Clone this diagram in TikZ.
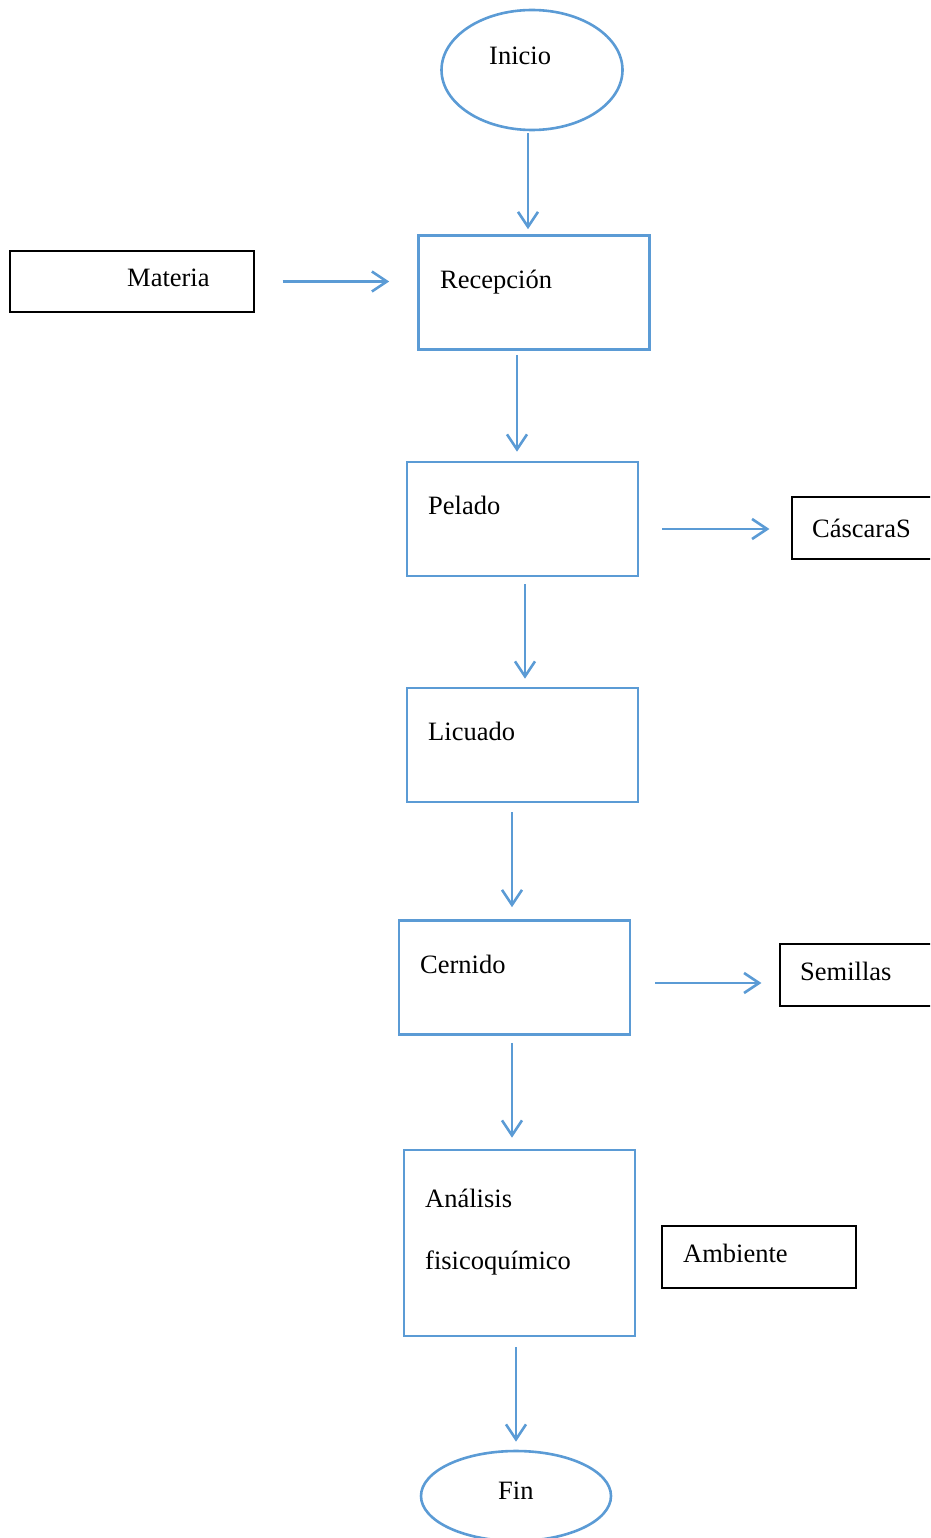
\documentclass[tikz,border=0pt]{standalone}
\usepackage{fontspec}
\setmainfont{Liberation Serif}
\usetikzlibrary{arrows.meta,calc,shapes.geometric}
\definecolor{flowblue}{HTML}{5B9BD5}
\begin{document}
\begin{tikzpicture}[x=1pt,y=-1pt,
  every node/.style={font=\fontsize{26.5}{32}\selectfont},
  procbox/.style={draw=flowblue,line width=2.6pt,rectangle,inner sep=0pt,
    minimum width=231pt,minimum height=114pt},
  sidebox/.style={draw=black,line width=1.2pt,rectangle,inner sep=0pt},
  endpoint/.style={draw=flowblue,line width=2.6pt,ellipse,inner sep=0pt},
  lbl/.style={anchor=base west,inner sep=0pt},
  arr/.style={draw=flowblue,line width=2.6pt,
    -{Straight Barb[length=15pt,width=20pt,line width=2.6pt]}}]
\clip (0,0) rectangle (930,1538);

% terminals
\node[endpoint,minimum width=181pt,minimum height=120pt] (inicio) at (532,70) {};
\node[lbl] (inicio-t) at (489,65) {Inicio};
\node[endpoint,minimum width=190pt,minimum height=90pt] (fin) at (516,1496) {};
\node[lbl] (fin-t) at (498,1499) {Fin};

% process steps
\node[procbox] (recepcion) at (534,292.5) {};
\node[lbl] (recepcion-t) at (440,288) {Recepción};
\node[procbox] (pelado) at (522.5,519) {};
\node[lbl] (pelado-t) at (428,514) {Pelado};
\node[procbox] (licuado) at (522.5,745) {};
\node[lbl] (licuado-t) at (428,740) {Licuado};
\node[procbox] (cernido) at (514.5,977.5) {};
\node[lbl] (cernido-t) at (420,973) {Cernido};
\node[procbox,minimum height=186pt] (analisis) at (519.5,1243) {};
\node[lbl] (analisis-t) at (425,1207) {Análisis};
\node[lbl] (analisis-t2) at (425,1269) {fisicoquímico};

% inputs and outputs
\node[sidebox,minimum width=244pt,minimum height=61pt] (materia) at (132,281.5) {};
\node[lbl] (materia-t) at (127,286) {Materia};
\node[sidebox,minimum width=170pt,minimum height=62pt] (cascaras) at (877,528) {};
\node[lbl] (cascaras-t) at (812,537) {CáscaraS};
\node[sidebox,minimum width=180pt,minimum height=62pt] (semillas) at (870,975) {};
\node[lbl] (semillas-t) at (800,980) {Semillas};
\node[sidebox,minimum width=194pt,minimum height=62pt] (ambiente) at (759,1257) {};
\node[lbl] (ambiente-t) at (683,1262) {Ambiente};

% flow
\draw[arr] ($(inicio.south)+(-4,2)$) -- ($(recepcion.north)+(-6,-5)$);
\draw[arr] ($(materia.east)+(28,0)$) -- ($(recepcion.west)+(-28,-11)$);
\draw[arr] ($(recepcion.south)+(-17,4)$) -- ($(pelado.north)+(-5.5,-9)$);
\draw[arr] ($(pelado.east)+(23,10)$) -- ($(cascaras.west)+(-22,1)$);
\draw[arr] ($(pelado.south)+(2.5,7)$) -- ($(licuado.north)+(2.5,-8)$);
\draw[arr] ($(licuado.south)+(-10.5,9)$) -- ($(cernido.north)+(-2.5,-12)$);
\draw[arr] ($(cernido.east)+(24,5.5)$) -- ($(semillas.west)+(-18,8)$);
\draw[arr] ($(cernido.south)+(-2.5,7)$) -- ($(analisis.north)+(-7.5,-11)$);
\draw[arr] ($(analisis.south)+(-3.5,10)$) -- ($(fin.north)+(0,-8)$);
\end{tikzpicture}
\end{document}
